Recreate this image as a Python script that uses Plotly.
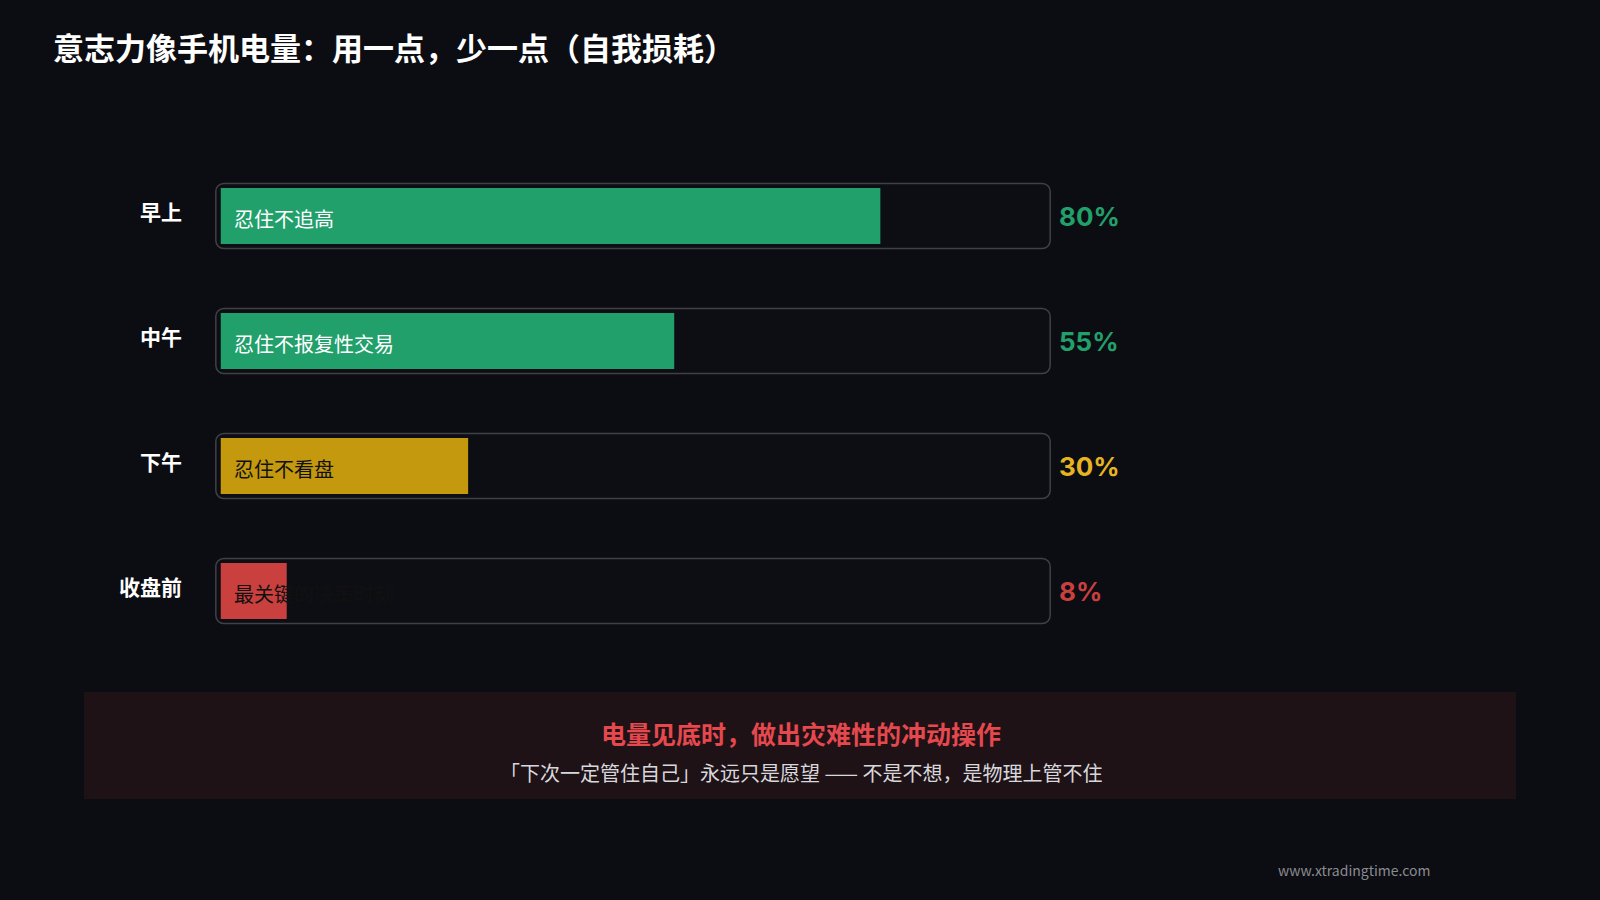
import plotly.graph_objects as go

periods = ["早上", "中午", "下午", "收盘前"]
values = [80, 55, 30, 8]
tasks = ["忍住不追高", "忍住不报复性交易", "忍住不看盘", "最关键的决策时刻"]
colors = ["#22a06b", "#22a06b", "#c4990e", "#c9403f"]
text_colors = ["#ffffff", "#ffffff", "#111111", "#111111"]
pct_labels = [f"{v}%" for v in values]
ypos = [0, 1, 2, 3]

W, H = 1600, 900
FONT = "Noto Sans CJK SC"
fig = go.Figure()
fig.add_trace(go.Bar(x=[101.2]*4, base=[-0.6]*4, y=ypos, orientation="h", width=0.52,
                     marker=dict(color="#0d0e13", line=dict(color="#404146", width=1.5), cornerradius=8),
                     hoverinfo="skip", showlegend=False))
fig.add_trace(go.Bar(x=values, y=ypos, orientation="h", width=0.448,
                     marker=dict(color=colors, line=dict(width=0), cornerradius=6),
                     showlegend=False))

anns = []
for i in range(4):
    anns.append(dict(x=184/W, xref="paper", y=ypos[i]-0.04, yref="y", text=f"<b>{periods[i]}</b>",
                     showarrow=False, xanchor="right", yanchor="middle", font=dict(size=21, color="#ffffff", family=FONT)))
    anns.append(dict(x=1057/W, xref="paper", y=ypos[i], yref="y", text=f"<b>{pct_labels[i]}</b>",
                     showarrow=False, xanchor="left", yanchor="middle", font=dict(size=26, color=colors[i] if i != 2 else "#e6b422", family="Inter")))
    anns.append(dict(x=232/W, xref="paper", y=ypos[i]+0.02, yref="y", text=tasks[i],
                     showarrow=False, xanchor="left", yanchor="middle", font=dict(size=20, color=text_colors[i], family=FONT)))
anns += [
    dict(x=51/W, y=1-46/H, xref="paper", yref="paper", text="<b>意志力像手机电量：用一点，少一点（自我损耗）</b>",
         showarrow=False, xanchor="left", yanchor="middle", font=dict(size=31, color="#ffffff", family=FONT)),
    dict(x=801/W, y=1-733/H, xref="paper", yref="paper", text="<b>电量见底时，做出灾难性的冲动操作</b>",
         showarrow=False, xanchor="center", yanchor="middle", font=dict(size=25, color="#e5484d", family=FONT)),
    dict(x=801/W, y=1-772/H, xref="paper", yref="paper", text="「下次一定管住自己」永远只是愿望 —— 不是不想，是物理上管不住",
         showarrow=False, xanchor="center", yanchor="middle", font=dict(size=20, color="#d8d8dc", family=FONT)),
    dict(x=1433/W, y=1-870/H, xref="paper", yref="paper", text="www.xtradingtime.com",
         showarrow=False, xanchor="right", yanchor="middle", font=dict(size=14, color="#8a8b90", family=FONT)),
]

r0 = -216/125
fig.update_layout(
    width=W, height=H, margin=dict(l=0, r=0, t=0, b=0),
    paper_bgcolor="#0c0d12", plot_bgcolor="rgba(0,0,0,0)", barmode="overlay",
    xaxis=dict(range=[-0.7, 100.7], domain=[215/W, 1051/W], visible=False, fixedrange=True),
    yaxis=dict(range=[r0 + H/125, r0], domain=[0, 1], visible=False, fixedrange=True),
    annotations=anns,
    shapes=[dict(type="rect", xref="paper", yref="paper", x0=84/W, x1=1516/W, y0=1-799/H, y1=1-692/H,
                 fillcolor="#1e1217", line=dict(width=0), layer="below")],
)
fig.write_html("out.html", config={"displayModeBar": False},
               post_script="document.body.style.margin='0';document.body.style.background='#0c0d12';")
